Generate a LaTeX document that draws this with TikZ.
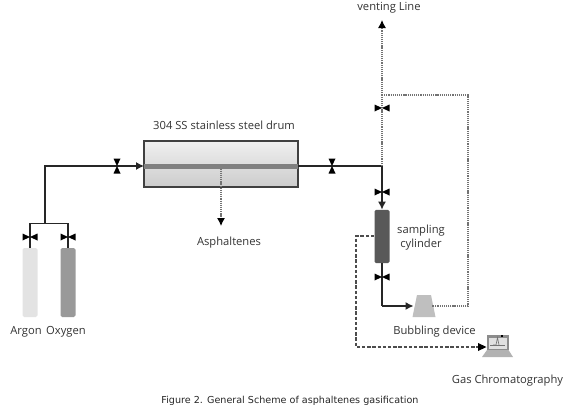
\documentclass[tikz,border=0pt]{standalone}
\usepackage{fontspec}
\setmainfont{Open Sans}
\newfontfamily\capfont{DejaVu Sans}
\usetikzlibrary{arrows.meta,shapes.geometric}
\colorlet{ink}{black!85}
\tikzset{
  x=0.75pt,y=-0.75pt,
  pipe/.style={draw=ink,line width=0.9pt},
  flow/.style={pipe,-{Latex[length=6pt,width=6pt]}},
  dotline/.style={draw=black!55,line width=0.8pt,dash pattern=on 0.9pt off 0.7pt},
  dotflow/.style={dotline,-{Latex[length=6pt,width=6pt,color=black]}},
  dashline/.style={draw=black!70,line width=0.8pt,dash pattern=on 2.6pt off 1.3pt},
  lbl/.style={font=\fontsize{8.4}{10}\selectfont,text=black!80,inner sep=0pt},
  bottle/.style={rounded corners=1.2pt,minimum width=11.25pt,minimum height=51.75pt,inner sep=0pt},
  vh/.pic={\fill[black] (-7.5,-3.5)--(0,0)--(-7.5,3.5)--cycle (7.5,-3.5)--(0,0)--(7.5,3.5)--cycle;},
  vv/.pic={\fill[black] (-3.5,-7.5)--(0,0)--(3.5,-7.5)--cycle (-3.5,7.5)--(0,0)--(3.5,7.5)--cycle;}
}
\begin{document}
\begin{tikzpicture}
\useasboundingbox (0,0) rectangle (579,414);
% drum
\node[draw=black!75,line width=1pt,minimum width=115.5pt,minimum height=34.5pt,inner sep=0pt,
  top color=black!6,bottom color=black!20] (drum) at (221,164) {};
\fill[black!50] (144,163.5) rectangle (298,168.5);
\coordinate (drumL) at (144,166);
\coordinate (drumR) at (298,166);
\coordinate (drumO) at (221,168.5);
% bottles
\node[bottle,fill=black!11] (argon) at (30,282.5) {};
\node[bottle,fill=black!40] (oxygen) at (68,282.5) {};
% sampling cylinder
\node[rounded corners=1.2pt,fill=black!65,minimum width=11.25pt,minimum height=40pt,inner sep=0pt] (cyl) at (382,236.5) {};
% bubbler
\fill[black!25] (417,295)--(431,295)--(435.5,317)--(412.5,317)--cycle;
\coordinate (bubL) at (413.5,306);
\coordinate (bubR) at (432,306);
% laptop
\coordinate (gcIn) at (486.5,347);
\fill[black!45] (487,335) rectangle (508.5,350);
\fill[black!12] (489,337.5) rectangle (506.5,348.5);
\draw[black!55,line width=0.4pt] (490,345)--(505,345);
\draw[black!55,line width=0.5pt] (493,345)--(496,345)--(497.5,337.5)--(499,345);
\fill[black!30] (487,350)--(508.5,350)--(513,357)--(482,357)--cycle;
\fill[black] (501,335) rectangle (503,336.5);
% junctions
\coordinate (j1) at (45,166);
\coordinate (j2) at (45,223.5);
\coordinate (j3) at (30,223.5);
\coordinate (j4) at (68,223.5);
\coordinate (j5) at (382,166);
\coordinate (top) at (382,20);
\coordinate (j6) at (382,95);
\coordinate (j7) at (468,95);
\coordinate (j8) at (468,306);
\coordinate (j9) at (382,306);
\coordinate (d1) at (356,236);
\coordinate (d2) at (356,347);
% pipes
\draw[flow] (j2)--(j1)--(drumL);
\draw[pipe] (argon.north)--(j3)--(j4)--(oxygen.north);
\draw[pipe] (drumR)--(j5);
\draw[flow] (j5)--(cyl.north);
\draw[pipe] (cyl.south)--(j9);
\draw[flow] (j9)--(bubL);
\draw[dotflow] (j5)--(top);
\draw[dotline] (j6)--(j7)--(j8)--(bubR);
\draw[dotflow] (drumO)--(221,226);
\draw[dashline] (cyl.west |- d1)--(d1)--(d2)--(gcIn);
\fill[black] (gcIn)--(478,343)--(478,351)--cycle;
% valves
\pic at (117,166) {vv};
\pic at (332,166) {vv};
\pic at (30,237) {vh};
\pic at (68,237) {vh};
\pic at (382,108) {vh};
\pic at (382,192) {vh};
\pic at (382,277) {vh};
% labels
\node[lbl] (t1) at (224,125) {304 SS stainless steel drum};
\node[lbl] (t2) at (229,242.5) {Asphaltenes};
\node[lbl] (t3) at (389,7.5) {venting Line};
\node[lbl] (t4) at (421,231) {sampling};
\node[lbl] (t5) at (421,245) {cylinder};
\node[lbl] (t6) at (434.5,332) {Bubbling device};
\node[lbl] (t7) at (507.5,381) {Gas Chromatography};
\node[lbl] (t8) at (26,331.5) {Argon};
\node[lbl] (t9) at (66,331.5) {Oxygen};
\node[inner sep=0pt,font=\capfont\fontsize{7.2}{9}\selectfont,text=black!85] (cap) at (290,400.5) {Figure 2. General Scheme of asphaltenes gasification};
\end{tikzpicture}
\end{document}
